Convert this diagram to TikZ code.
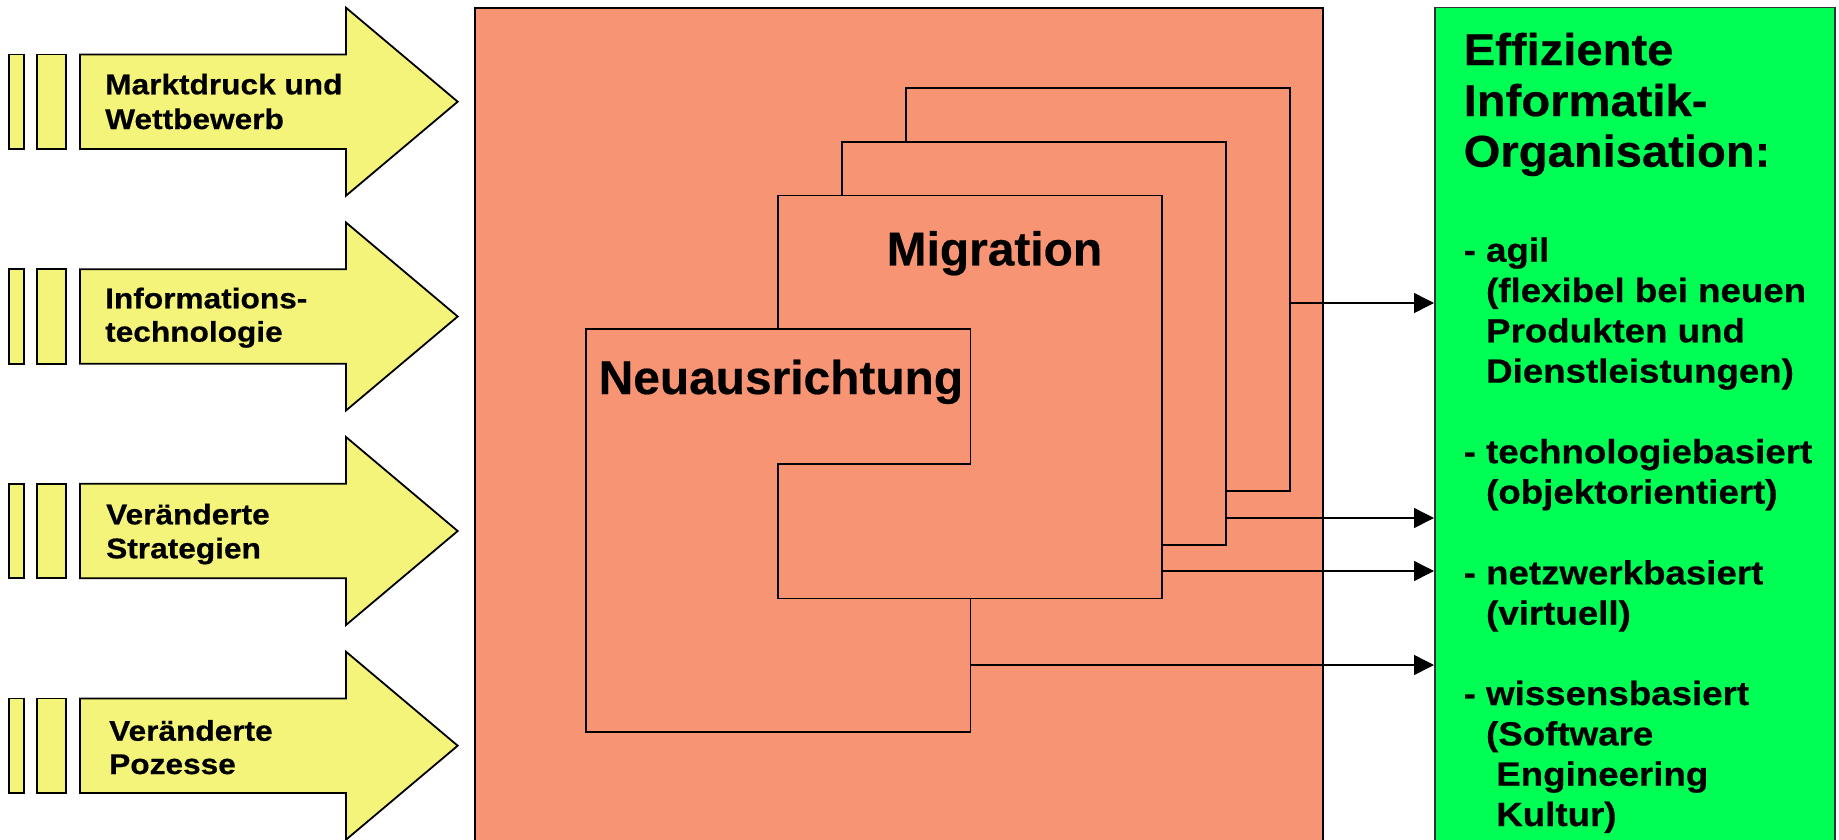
\documentclass[tikz,border=0pt]{standalone}
\usepackage{fontspec}
\setmainfont{Liberation Sans}
\newfontfamily\fa{Liberation Sans}[FakeStretch=1.11,FakeBold=0.5]
\newfontfamily\fb{Liberation Sans}[FakeStretch=1.06,FakeBold=0.5]
\newfontfamily\fc{Liberation Sans}[FakeStretch=1.095,FakeBold=0.5]
\newfontfamily\fd{Liberation Sans}[FakeStretch=1.01,FakeBold=0.4]
\usetikzlibrary{arrows.meta}
\definecolor{salmon}{RGB}{247,148,115}
\definecolor{yel}{RGB}{244,244,122}
\definecolor{grn}{RGB}{0,255,85}
\begin{document}
\begin{tikzpicture}[x=1pt,y=-1pt,
  yarrow/.style={fill=yel,draw=black,line width=1.8pt,line join=miter},
  layer/.style={fill=salmon,draw=black,line width=1.5pt,inner sep=0pt,outer sep=0pt,anchor=north west,minimum width=384pt,minimum height=403pt},
  conn/.style={line width=1.4pt,-{Triangle[length=20pt,width=20pt]}},
  atext/.style={anchor=base west,inner sep=0pt,font=\fa\bfseries\fontsize{28.5}{34}\selectfont},
  htext/.style={anchor=base west,inner sep=0pt,font=\fb\bfseries\fontsize{44.5}{50}\selectfont},
  itext/.style={anchor=base west,inner sep=0pt,font=\fc\bfseries\fontsize{33.5}{40}\selectfont},
  btext/.style={anchor=base west,inner sep=0pt,font=\fd\bfseries\fontsize{47.4}{56}\selectfont},
]
\useasboundingbox (0,0) rectangle (1839,839);
\clip (0,0) rectangle (1839,839);
\fill[white] (0,0) rectangle (1839,839);

% yellow input arrows
\foreach \c in {101.7,316.5,531,745.7}{
  \draw[yarrow] (9.3,{\c-47.2}) rectangle (24.3,{\c+47.2});
  \draw[yarrow] (37.3,{\c-47.2}) rectangle (66,{\c+47.2});
  \draw[yarrow] (80,{\c-47.2}) -- (346,{\c-47.2}) -- (346,{\c-94}) -- (457.7,\c)
     -- (346,{\c+94}) -- (346,{\c+47.2}) -- (80,{\c+47.2}) -- cycle;
}
\node[atext] (a1a) at (105,94.3) {Marktdruck und};
\node[atext] (a1b) at (105,129) {Wettbewerb};
\node[atext] (a2a) at (105,308.3) {Informations-};
\node[atext] (a2b) at (105,341.7) {technologie};
\node[atext] (a3a) at (106,524.3) {Veränderte};
\node[atext] (a3b) at (106,558.3) {Strategien};
\node[atext] (a4a) at (109,740.7) {Veränderte};
\node[atext] (a4b) at (109,774) {Pozesse};

% salmon field
\node[fill=salmon,draw=black,line width=1.5pt,inner sep=0pt,anchor=north west,
      minimum width=848pt,minimum height=860pt] (field) at (474,7.3) {};

% stacked layers
\node[layer] (back) at (906,88) {};
\node[layer] (middle) at (842,142) {};
\node[layer] (migr) at (778,195.5) {};
\draw[fill=salmon,draw=black,line width=1.5pt] (586,329) -- (970.5,329) -- (970.5,464)
  -- (778,464) -- (778,598.5) -- (970.5,598.5) -- (970.5,732) -- (586,732) -- cycle;
\node[btext] (mig) at (886.5,265.4) {Migration};
\node[btext] (neu) at (598.5,394) {Neuausrichtung};

% green target box
\node[fill=grn,draw=black!80,line width=1.5pt,inner sep=0pt,anchor=north west,
      minimum width=400.3pt,minimum height=860pt] (green) at (1434,6.7) {};

% connectors
\coordinate (s1) at (1290,303);
\coordinate (s2) at (1226,518);
\coordinate (s3) at (1162,571);
\coordinate (s4) at (970.5,665);
\draw[conn] (s1) -- (s1 -| green.west);
\draw[conn] (s2) -- (s2 -| green.west);
\draw[conn] (s3) -- (s3 -| green.west);
\draw[conn] (s4) -- (s4 -| green.west);

% green box text
\node[htext] (h1) at (1463.5,65) {Effiziente};
\node[htext] (h2) at (1463.5,116) {Informatik-};
\node[htext] (h3) at (1463.5,166.7) {Organisation:};
\node[itext] (i1) at (1463.5,261.7) {- agil};
\node[itext] (i2) at (1463.5,302) {\hphantom{- }(flexibel bei neuen};
\node[itext] (i3) at (1463.5,342.3) {\hphantom{- }Produkten und};
\node[itext] (i4) at (1463.5,382.6) {\hphantom{- }Dienstleistungen)};
\node[itext] (i5) at (1463.5,463.2) {- technologiebasiert};
\node[itext] (i6) at (1463.5,503.5) {\hphantom{- }(objektorientiert)};
\node[itext] (i7) at (1463.5,584.4) {- netzwerkbasiert};
\node[itext] (i8) at (1463.5,624.7) {\hphantom{- }(virtuell)};
\node[itext] (i9) at (1463.5,705) {- wissensbasiert};
\node[itext] (i10) at (1463.5,745.4) {\hphantom{- }(Software};
\node[itext] (i11) at (1463.5,785.7) {\hphantom{- \ }Engineering};
\node[itext] (i12) at (1463.5,826) {\hphantom{- \ }Kultur)};
\end{tikzpicture}
\end{document}
